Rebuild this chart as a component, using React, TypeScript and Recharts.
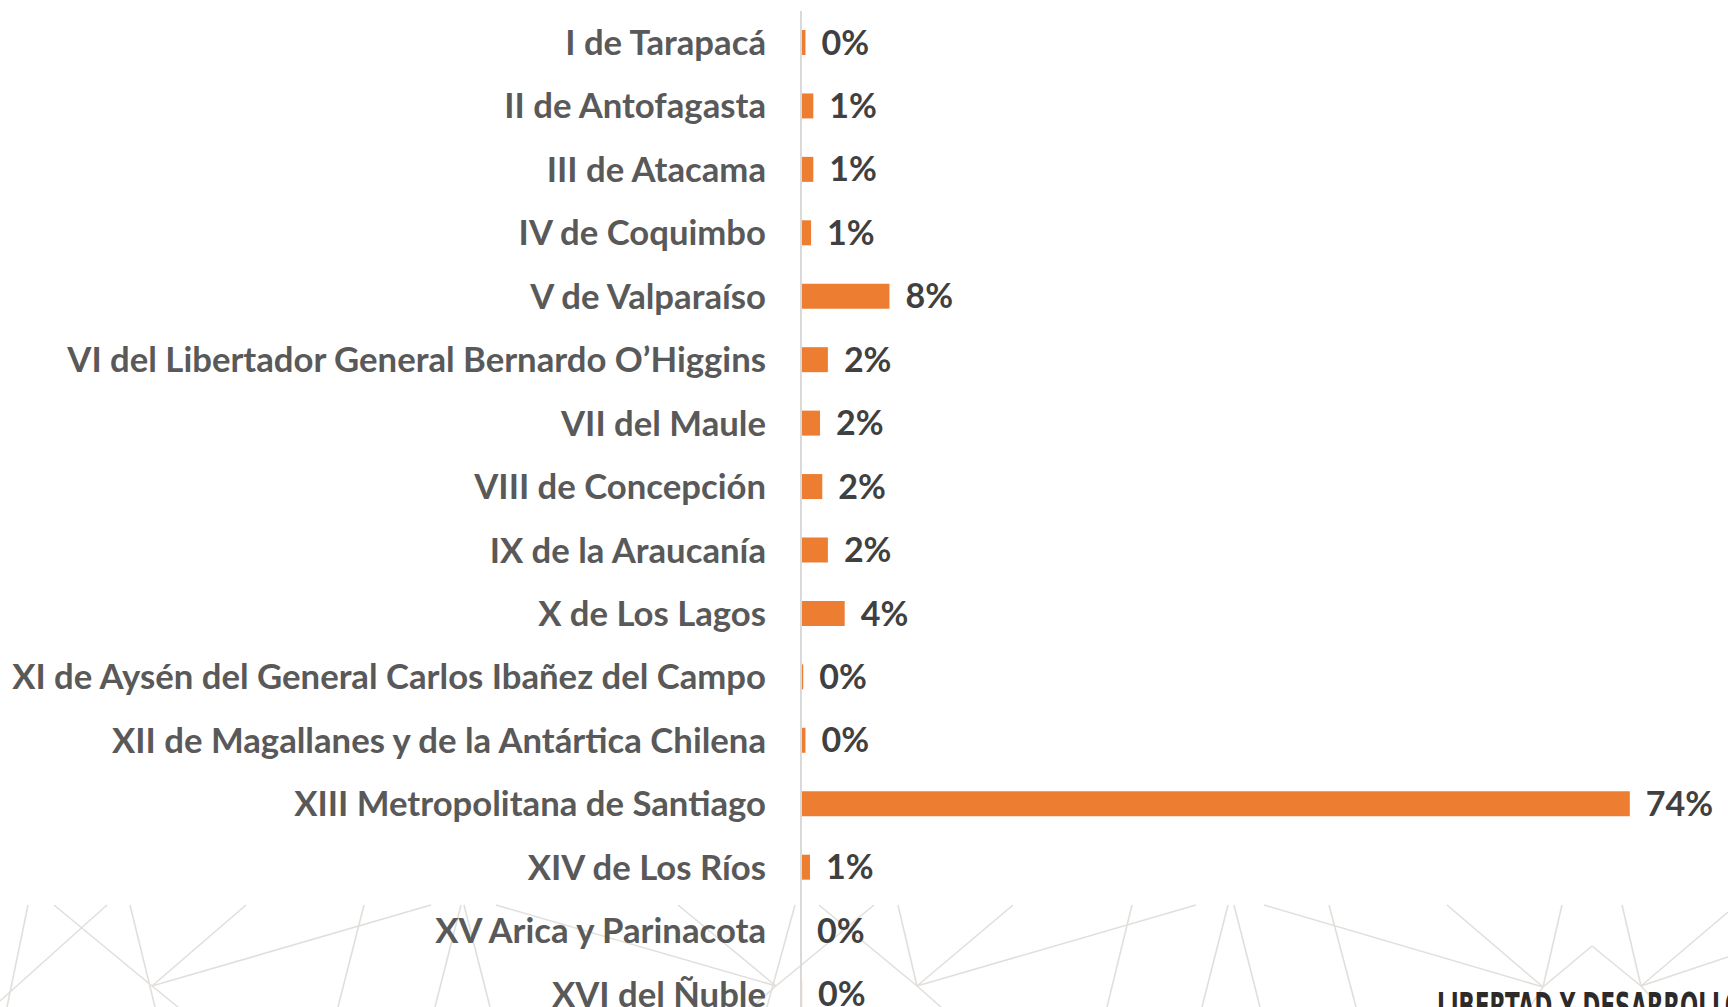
import React from "react";
import { Bar, BarChart, LabelList, XAxis, YAxis } from "recharts";

// Regions of Chile, top to bottom as in the chart
const regions = [
  "I de Tarapacá",
  "II de Antofagasta",
  "III de Atacama",
  "IV de Coquimbo",
  "V de Valparaíso",
  "VI del Libertador General Bernardo O’Higgins",
  "VII del Maule",
  "VIII de Concepción",
  "IX de la Araucanía",
  "X de Los Lagos",
  "XI de Aysén del General Carlos Ibañez del Campo",
  "XII de Magallanes y de la Antártica Chilena",
  "XIII Metropolitana de Santiago",
  "XIV de Los Ríos",
  "XV Arica y Parinacota",
  "XVI del Ñuble",
];

// share in percent
const shares = [0.4, 1.1, 1.1, 0.9, 7.9, 2.4, 1.7, 1.9, 2.4, 3.9, 0.2, 0.4, 74.0, 0.8, 0.0, 0.1];

// printed labels
const shareLabels = ["0%", "1%", "1%", "1%", "8%", "2%", "2%", "2%", "2%", "4%", "0%", "0%", "74%", "1%", "0%", "0%"];

const chartData = regions.map((region, i) => ({
  region,
  share: shares[i],
  label: shareLabels[i],
}));

// decorative network lines in the page footer
const decoLines: [number, number, number, number][] = [
  [28, 905, 7, 1007],
  [107, 905, 0, 1001],
  [54, 905, 152, 986],
  [152, 986, 178, 1007],
  [130, 905, 155, 1007],
  [246, 905, 152, 986],
  [152, 986, 431, 905],
  [364, 905, 338, 1007],
  [461, 905, 435, 1007],
  [464, 905, 490, 1007],
  [496, 905, 776, 986],
  [678, 905, 776, 986],
  [795, 905, 767, 1007],
  [776, 986, 874, 905],
  [776, 986, 752, 1007],
  [819, 905, 917, 986],
  [898, 905, 917, 986],
  [1013, 905, 917, 986],
  [917, 986, 1196, 905],
  [917, 986, 941, 1007],
  [1132, 905, 1107, 1007],
  [1228, 905, 1202, 1007],
  [1234, 905, 1260, 1007],
  [1264, 905, 1543, 987],
  [1329, 905, 1356, 1007],
  [1447, 905, 1543, 987],
  [1562, 905, 1543, 987],
  [1543, 987, 1592, 946],
  [1543, 987, 1530, 1007],
  [1592, 946, 1641, 986],
  [1622, 905, 1641, 986],
  [1641, 986, 1728, 912],
  [1641, 986, 1728, 957],
  [1641, 986, 1660, 1007],
];

const FONT = "Lato, 'Open Sans', sans-serif";

const App = () => {
  return (
    <div style={{ position: "absolute", left: 0, top: 0, width: 1728, height: 1007, overflow: "hidden", background: "#fff" }}>
      {/* Background pattern */}
      <svg width={1728} height={1007} style={{ position: "absolute", left: 0, top: 0 }}>
        {decoLines.map(([x1, y1, x2, y2], i) => (
          <line key={i} x1={x1} y1={y1} x2={x2} y2={y2} stroke="#e2dfdb" strokeWidth={1.6} />
        ))}
        <text
          x={1437}
          y={1019}
          fontFamily="'DejaVu Sans Condensed', 'DejaVu Sans', sans-serif"
          fontWeight="bold"
          fontSize={38}
          fill="#2e2a29"
          textLength={306}
          lengthAdjust="spacingAndGlyphs"
        >
          LIBERTAD Y DESARROLLO
        </text>
      </svg>

      <div style={{ position: "absolute", left: 0, top: 0 }}>
        <BarChart
          width={1728}
          height={1026}
          data={chartData}
          layout="vertical"
          margin={{ top: 11, right: 31, bottom: 0, left: 0 }}
          barSize={25}
        >
          <XAxis type="number" domain={[0, 80]} hide />
          <YAxis
            type="category"
            dataKey="region"
            width={801}
            interval={0}
            tickLine={false}
            tickSize={0}
            tickMargin={35}
            axisLine={{ stroke: "#d9d9d9", strokeWidth: 2 }}
            tick={{ fill: "#595959", fontFamily: FONT, fontWeight: 700, fontSize: 34.7 }}
          />
          <Bar dataKey="share" fill="#ed7d31" minPointSize={0.01} isAnimationActive={false}>
            <LabelList
              dataKey="label"
              position="right"
              offset={16}
              fill="#404040"
              fontFamily={FONT}
              fontWeight={700}
              fontSize={34}
            />
          </Bar>
        </BarChart>
      </div>
    </div>
  );
};

export default App;
